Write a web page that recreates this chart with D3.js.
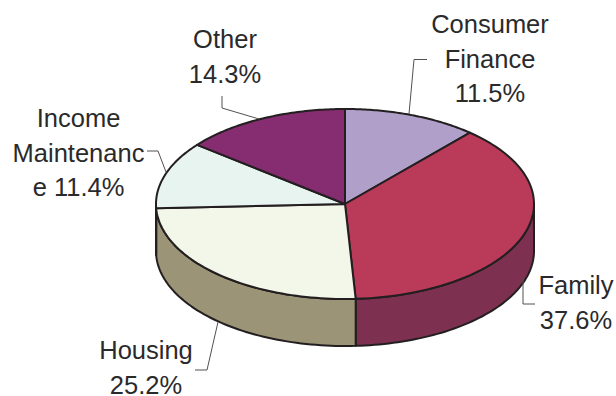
<!DOCTYPE html>
<html>
<head>
<meta charset="utf-8">
<script src="https://cdn.jsdelivr.net/npm/d3@7"></script>
<style>
html, body { margin: 0; padding: 0; background: #fff; }
svg { display: block; }
text { font-family: "Liberation Sans", Arial, sans-serif; font-size: 25.5px; fill: #2b2a2b; text-anchor: middle; }
</style>
</head>
<body>
<div id="chart"></div>
<script>
// Spending shares by category, clockwise from twelve o'clock
const categories = ["Consumer Finance", "Family", "Housing", "Income Maintenance", "Other"];
const shares = [11.5, 37.6, 25.2, 11.4, 14.3];
const topColors = ["#AF9FC9", "#B93A59", "#F3F7E9", "#E8F4F0", "#852D70"];
const sideColors = ["#8A7FA0", "#7D3050", "#9C9476", "#B8C4BE", "#5E2050"];

// Label text as set on the page, line by line
const labelLines = [
  ["Consumer", "Finance", "11.5%"],
  ["Family", "37.6%"],
  ["Housing", "25.2%"],
  ["Income", "Maintenanc", "e 11.4%"],
  ["Other", "14.3%"]
];
const labelX = [490, 576, 146, 78.5, 225];
const labelY = [33, 294, 359, 127, 48];
const lineStep = 34.5;

// Elbow connectors between labels and slices
const leaders = [
  [[427, 59.5], [414, 59.5], [409, 114]],
  [[535, 304], [523, 304], [523, 279]],
  [[195, 370], [207, 370], [218, 322]],
  [[147, 151], [158, 151], [166, 172]],
  [[222, 96], [222, 108], [259, 119]]
];

const width = 616, height = 396;
const cx = 345, cy = 204, rx = 189, ry = 95, depth = 47;
const outline = "#231F20";

const svg = d3.select("#chart").append("svg")
  .attr("width", width).attr("height", height);

const slices = d3.pie().sort(null).value(d => d)(shares);

// Project a pie angle (0 at top, clockwise) onto the tilted disc
const px = a => cx + rx * Math.sin(a);
const py = (a, drop = 0) => cy - ry * Math.cos(a) + drop;
const curve = d3.line().x(d => d[0]).y(d => d[1]);
const sweep = (a0, a1, drop) =>
  d3.range(0, 61).map(i => {
    const a = a0 + (a1 - a0) * i / 60;
    return [px(a), py(a, drop)];
  });

// Side wall: only the part of the rim that faces the viewer
const frontStart = Math.PI / 2, frontEnd = 3 * Math.PI / 2;
svg.append("g").selectAll("path")
  .data(slices.filter(s => s.endAngle > frontStart && s.startAngle < frontEnd))
  .join("path")
  .attr("d", s => {
    const a0 = Math.max(s.startAngle, frontStart);
    const a1 = Math.min(s.endAngle, frontEnd);
    return curve([...sweep(a0, a1, 0), ...sweep(a1, a0, depth)]) + "Z";
  })
  .attr("fill", s => sideColors[s.index])
  .attr("stroke", outline)
  .attr("stroke-width", 2)
  .attr("stroke-linejoin", "round");

// Top face of the disc
svg.append("g").selectAll("path")
  .data(slices)
  .join("path")
  .attr("d", s => curve([[cx, cy], ...sweep(s.startAngle, s.endAngle, 0)]) + "Z")
  .attr("fill", s => topColors[s.index])
  .attr("stroke", outline)
  .attr("stroke-width", 2)
  .attr("stroke-linejoin", "round");

// Connectors
svg.append("g").selectAll("path")
  .data(leaders)
  .join("path")
  .attr("d", d => curve(d))
  .attr("fill", "none")
  .attr("stroke", "#55504f")
  .attr("stroke-width", 1);

// Labels
const labels = svg.append("g").selectAll("text")
  .data(categories)
  .join("text")
  .attr("aria-label", d => d);
labels.selectAll("tspan")
  .data((d, i) => labelLines[i].map((line, j) => ({ line, x: labelX[i], y: labelY[i] + j * lineStep })))
  .join("tspan")
  .attr("x", d => d.x)
  .attr("y", d => d.y)
  .text(d => d.line);
</script>
</body>
</html>
